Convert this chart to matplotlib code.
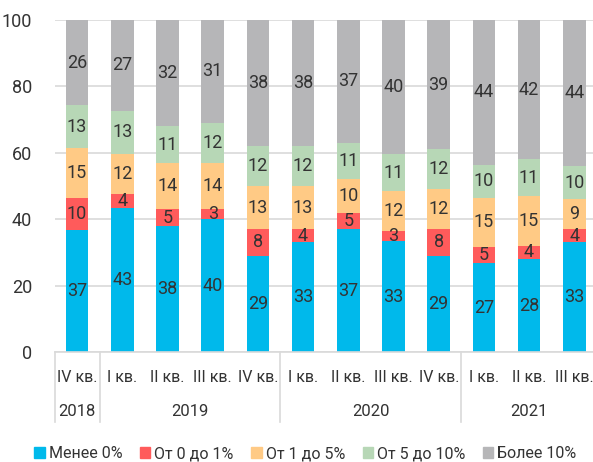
import matplotlib.pyplot as plt
import numpy as np
from matplotlib.lines import Line2D

plt.rcParams['font.family'] = ['Roboto', 'DejaVu Sans']

quarters = ['IV кв.', 'I кв.', 'II кв.', 'III кв.', 'IV кв.', 'I кв.', 'II кв.',
            'III кв.', 'IV кв.', 'I кв.', 'II кв.', 'III кв.']
years = ['2018', '2019', '2020', '2021']
year_spans = [(0, 0), (1, 4), (5, 8), (9, 11)]

below0 = [37, 43, 38, 40, 29, 33, 37, 33, 29, 27, 28, 33]
from0to1 = [10, 4, 5, 3, 8, 4, 5, 3, 8, 5, 4, 4]
from1to5 = [15, 12, 14, 14, 13, 13, 10, 12, 12, 15, 15, 9]
from5to10 = [13, 13, 11, 12, 12, 12, 11, 11, 12, 10, 11, 10]
above10 = [26, 27, 32, 31, 38, 38, 37, 40, 39, 44, 42, 44]

series = [below0, from0to1, from1to5, from5to10, above10]
names = ['Менее 0%', 'От 0 до 1%', 'От 1 до 5%', 'От 5 до 10%', 'Более 10%']
colors = ['#00b9eb', '#ff5b5b', '#ffca85', '#b7d7b6', '#b6b6b8']
txt = '#333333'

fig = plt.figure(figsize=(5.93, 4.62), dpi=100)
ax = fig.add_axes([54.5 / 593, 110 / 462, 542.4 / 593, 332 / 462])

x = np.arange(len(quarters))
# rounded shares do not always add to 100, scale each bar to 100
totals = np.sum(series, axis=0)
bottom = np.zeros(len(quarters))
for vals, name, c in zip(series, names, colors):
    h = np.array(vals) / totals * 100
    ax.bar(x, h, 0.5, bottom=bottom, color=c, label=name, zorder=2)
    for xi, b, hh, v in zip(x, bottom, h, vals):
        ax.text(xi, b + hh / 2, str(v), ha='center', va='center',
                fontsize=13, color=txt, zorder=3)
    bottom += h

ax.set_xlim(-0.5, 11.5)
ax.set_ylim(0, 100)
ax.set_yticks(range(0, 101, 20))
ax.yaxis.grid(True, color='#d9d9d9', linewidth=1.2, zorder=0)
ax.set_axisbelow(True)
for s in ['top', 'right', 'left']:
    ax.spines[s].set_visible(False)
ax.spines['bottom'].set_color('#d9d9d9')
ax.spines['bottom'].set_linewidth(1.2)
ax.tick_params(axis='y', length=0, pad=16, labelsize=13, labelcolor=txt)
ax.set_xticks(x)
ax.set_xticklabels(quarters)
ax.tick_params(axis='x', length=0, pad=13, labelsize=11.5, labelcolor=txt)

# year row and separators
trans = ax.get_xaxis_transform()
for yr, (a, b) in zip(years, year_spans):
    ax.text((a + b) / 2, -0.178, yr, transform=trans, ha='center', va='center',
            fontsize=12, color=txt, clip_on=False)
for sep in [-0.5, 0.5, 4.5, 8.5]:
    ax.add_line(Line2D([sep, sep], [0, -0.21], transform=trans, color='#d9d9d9',
                       linewidth=1.2, clip_on=False))

handles = [plt.Rectangle((0, 0), 1, 1, color=c) for c in colors]
fig.legend(handles, names, loc='center', bbox_to_anchor=(0.515, 0.018), ncol=5,
           frameon=False, fontsize=11.5, handlelength=0.65, handleheight=0.65,
           handletextpad=0.25, columnspacing=1.1, labelcolor=txt)

fig.savefig('out.png', dpi=100)
